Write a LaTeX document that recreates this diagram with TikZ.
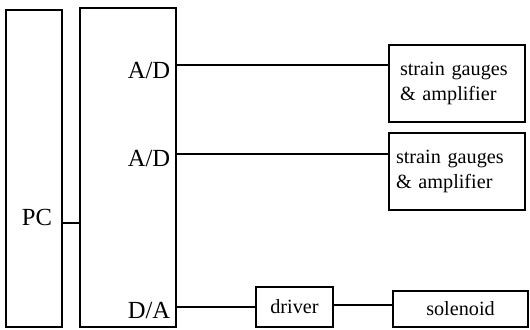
\documentclass[tikz,border=0pt]{standalone}
\usepackage{fontspec}
\setmainfont{Liberation Serif}
\usetikzlibrary{positioning}
\usetikzlibrary{calc}

\begin{document}
\begin{tikzpicture}[x=0.02cm, y=-0.02cm, line width=1pt,
    block/.style={draw, rectangle, inner sep=0pt, outer sep=0pt},
    biglabel/.style={font=\fontsize{14}{16}\selectfont, inner sep=0pt},
    smalllabel/.style={font=\fontsize{11.5}{14.2}\selectfont}]
    \useasboundingbox (0,0) rectangle (530,329);

    % computer and interface card
    \node [block, minimum width=1.12cm, minimum height=6.34cm] (pc) at (34,168.5) {};
    \node [block, minimum width=1.92cm, minimum height=6.38cm] (io) at (128,167.5) {};
    \node [biglabel] (pclabel) at (37,217) {PC};

    \node [biglabel, anchor=east] (ad1) at (171,70) {A/D};
    \node [biglabel, anchor=east] (ad2) at (171,158) {A/D};
    \node [biglabel, anchor=east] (da) at (171,310) {D/A};

    % sensors and actuator
    \node [block, smalllabel, minimum width=2.72cm, minimum height=1.54cm, text width=2.28cm,
        inner xsep=0.22cm, align=left] (sg1) at (457,83.5) {strain gauges\\\& amplifier};
    \node [block, smalllabel, minimum width=2.72cm, minimum height=1.54cm, text width=2.44cm,
        inner xsep=0.14cm, align=left] (sg2) at (457,171.5) {strain gauges\\\& amplifier};
    \node [block, smalllabel, minimum width=1.54cm, minimum height=0.8cm] (driver) at (294.5,307) {driver};
    \node [block, smalllabel, minimum width=2.7cm, minimum height=0.72cm] (solenoid) at (460.5,309) {solenoid};

    \coordinate (link) at (62,223);
    \coordinate (port1) at (176,65);
    \coordinate (port2) at (176,154);
    \coordinate (port3) at (176,307);
    \coordinate (port4) at (333,305);

    \draw (link) -- (link -| io.west);
    \draw (port1) -- (port1 -| sg1.west);
    \draw (port2) -- (port2 -| sg2.west);
    \draw (port3) -- (port3 -| driver.west);
    \draw (port4) -- (port4 -| solenoid.west);
\end{tikzpicture}
\end{document}
